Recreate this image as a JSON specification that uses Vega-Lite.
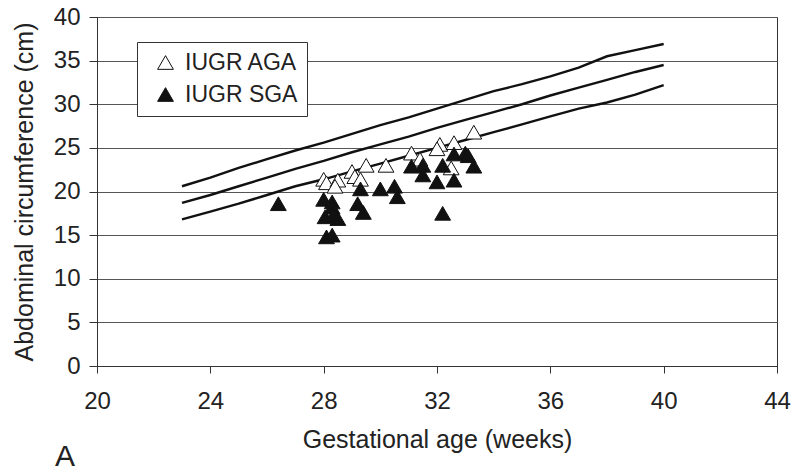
{
  "$schema": "https://vega.github.io/schema/vega-lite/v6.json",
  "width": 680,
  "height": 349,
  "autosize": {"type": "none"},
  "padding": {"left": 97, "top": 17, "right": 23, "bottom": 106},
  "background": "white",
  "config": {
    "font": "Liberation Sans",
    "view": {"stroke": "#333", "strokeWidth": 1},
    "axis": {
      "domainColor": "#333",
      "tickColor": "#333",
      "labelColor": "#222",
      "titleColor": "#222",
      "labelFontSize": 24,
      "titleFontSize": 25,
      "titleFontWeight": "normal",
      "labelFlush": false,
      "labelOverlap": false
    }
  },
  "title": {
    "text": "A",
    "orient": "bottom",
    "anchor": "start",
    "frame": "group",
    "fontSize": 30,
    "fontWeight": "normal",
    "color": "#222",
    "dx": -42,
    "offset": -10
  },
  "datasets": {
    "curves": [
      {"week": 23, "ac": 20.6, "curve": "upper"},
      {"week": 24, "ac": 21.6, "curve": "upper"},
      {"week": 25, "ac": 22.7, "curve": "upper"},
      {"week": 26, "ac": 23.7, "curve": "upper"},
      {"week": 27, "ac": 24.7, "curve": "upper"},
      {"week": 28, "ac": 25.6, "curve": "upper"},
      {"week": 29, "ac": 26.6, "curve": "upper"},
      {"week": 30, "ac": 27.6, "curve": "upper"},
      {"week": 31, "ac": 28.5, "curve": "upper"},
      {"week": 32, "ac": 29.5, "curve": "upper"},
      {"week": 33, "ac": 30.5, "curve": "upper"},
      {"week": 34, "ac": 31.5, "curve": "upper"},
      {"week": 35, "ac": 32.3, "curve": "upper"},
      {"week": 36, "ac": 33.2, "curve": "upper"},
      {"week": 37, "ac": 34.2, "curve": "upper"},
      {"week": 38, "ac": 35.5, "curve": "upper"},
      {"week": 39, "ac": 36.2, "curve": "upper"},
      {"week": 40, "ac": 36.9, "curve": "upper"},
      {"week": 23, "ac": 18.7, "curve": "middle"},
      {"week": 24, "ac": 19.6, "curve": "middle"},
      {"week": 25, "ac": 20.6, "curve": "middle"},
      {"week": 26, "ac": 21.6, "curve": "middle"},
      {"week": 27, "ac": 22.6, "curve": "middle"},
      {"week": 28, "ac": 23.5, "curve": "middle"},
      {"week": 29, "ac": 24.5, "curve": "middle"},
      {"week": 30, "ac": 25.4, "curve": "middle"},
      {"week": 31, "ac": 26.3, "curve": "middle"},
      {"week": 32, "ac": 27.3, "curve": "middle"},
      {"week": 33, "ac": 28.2, "curve": "middle"},
      {"week": 34, "ac": 29.1, "curve": "middle"},
      {"week": 35, "ac": 30.0, "curve": "middle"},
      {"week": 36, "ac": 31.0, "curve": "middle"},
      {"week": 37, "ac": 31.9, "curve": "middle"},
      {"week": 38, "ac": 32.8, "curve": "middle"},
      {"week": 39, "ac": 33.7, "curve": "middle"},
      {"week": 40, "ac": 34.5, "curve": "middle"},
      {"week": 23, "ac": 16.8, "curve": "lower"},
      {"week": 24, "ac": 17.7, "curve": "lower"},
      {"week": 25, "ac": 18.6, "curve": "lower"},
      {"week": 26, "ac": 19.6, "curve": "lower"},
      {"week": 27, "ac": 20.6, "curve": "lower"},
      {"week": 28, "ac": 21.4, "curve": "lower"},
      {"week": 29, "ac": 22.3, "curve": "lower"},
      {"week": 30, "ac": 23.2, "curve": "lower"},
      {"week": 31, "ac": 24.1, "curve": "lower"},
      {"week": 32, "ac": 25.0, "curve": "lower"},
      {"week": 33, "ac": 25.9, "curve": "lower"},
      {"week": 34, "ac": 26.8, "curve": "lower"},
      {"week": 35, "ac": 27.7, "curve": "lower"},
      {"week": 36, "ac": 28.6, "curve": "lower"},
      {"week": 37, "ac": 29.5, "curve": "lower"},
      {"week": 38, "ac": 30.2, "curve": "lower"},
      {"week": 39, "ac": 31.1, "curve": "lower"},
      {"week": 40, "ac": 32.2, "curve": "lower"}
    ],
    "points": [
      {"week": 28.0, "ac": 21.4, "group": "IUGR AGA"},
      {"week": 28.1, "ac": 21.0, "group": "IUGR AGA"},
      {"week": 28.5, "ac": 21.3, "group": "IUGR AGA"},
      {"week": 28.4, "ac": 20.6, "group": "IUGR AGA"},
      {"week": 29.0, "ac": 22.3, "group": "IUGR AGA"},
      {"week": 29.1, "ac": 21.7, "group": "IUGR AGA"},
      {"week": 29.3, "ac": 21.4, "group": "IUGR AGA"},
      {"week": 29.5, "ac": 23.0, "group": "IUGR AGA"},
      {"week": 30.2, "ac": 23.0, "group": "IUGR AGA"},
      {"week": 31.1, "ac": 24.4, "group": "IUGR AGA"},
      {"week": 31.4, "ac": 23.7, "group": "IUGR AGA"},
      {"week": 32.1, "ac": 25.4, "group": "IUGR AGA"},
      {"week": 32.0, "ac": 24.9, "group": "IUGR AGA"},
      {"week": 32.6, "ac": 25.6, "group": "IUGR AGA"},
      {"week": 32.5, "ac": 22.7, "group": "IUGR AGA"},
      {"week": 33.3, "ac": 26.8, "group": "IUGR AGA"},
      {"week": 26.4, "ac": 18.6, "group": "IUGR SGA"},
      {"week": 28.0, "ac": 19.1, "group": "IUGR SGA"},
      {"week": 28.3, "ac": 18.8, "group": "IUGR SGA"},
      {"week": 28.3, "ac": 18.2, "group": "IUGR SGA"},
      {"week": 28.05, "ac": 17.1, "group": "IUGR SGA"},
      {"week": 28.35, "ac": 17.3, "group": "IUGR SGA"},
      {"week": 28.5, "ac": 16.9, "group": "IUGR SGA"},
      {"week": 28.1, "ac": 14.8, "group": "IUGR SGA"},
      {"week": 28.3, "ac": 15.0, "group": "IUGR SGA"},
      {"week": 29.3, "ac": 20.3, "group": "IUGR SGA"},
      {"week": 29.2, "ac": 18.6, "group": "IUGR SGA"},
      {"week": 29.4, "ac": 17.6, "group": "IUGR SGA"},
      {"week": 30.0, "ac": 20.3, "group": "IUGR SGA"},
      {"week": 30.5, "ac": 20.6, "group": "IUGR SGA"},
      {"week": 30.6, "ac": 19.4, "group": "IUGR SGA"},
      {"week": 31.1, "ac": 22.9, "group": "IUGR SGA"},
      {"week": 31.5, "ac": 23.0, "group": "IUGR SGA"},
      {"week": 31.5, "ac": 21.9, "group": "IUGR SGA"},
      {"week": 32.0, "ac": 21.1, "group": "IUGR SGA"},
      {"week": 32.2, "ac": 17.5, "group": "IUGR SGA"},
      {"week": 32.2, "ac": 23.0, "group": "IUGR SGA"},
      {"week": 32.6, "ac": 24.3, "group": "IUGR SGA"},
      {"week": 32.6, "ac": 21.3, "group": "IUGR SGA"},
      {"week": 33.0, "ac": 24.4, "group": "IUGR SGA"},
      {"week": 33.1, "ac": 24.1, "group": "IUGR SGA"},
      {"week": 33.3, "ac": 22.9, "group": "IUGR SGA"}
    ]
  },
  "encoding": {
    "x": {
      "field": "week",
      "type": "quantitative",
      "scale": {"domain": [20, 44], "nice": false, "zero": false},
      "axis": {
        "title": "Gestational age (weeks)",
        "values": [20, 24, 28, 32, 36, 40, 44],
        "grid": false,
        "tickSize": 7,
        "labelPadding": 16,
        "titlePadding": 14
      }
    },
    "y": {
      "field": "ac",
      "type": "quantitative",
      "scale": {"domain": [0, 40], "nice": false},
      "axis": {
        "title": "Abdominal circumference (cm)",
        "values": [0, 5, 10, 15, 20, 25, 30, 35, 40],
        "grid": true,
        "gridColor": "#555",
        "gridOpacity": 1,
        "tickSize": 8,
        "labelPadding": 9,
        "titlePadding": 16
      }
    }
  },
  "layer": [
    {
      "data": {"name": "curves"},
      "mark": {"type": "line", "color": "#111", "strokeWidth": 2.4},
      "encoding": {"detail": {"field": "curve"}}
    },
    {
      "data": {"name": "points"},
      "mark": {"type": "point", "shape": "triangle-up", "filled": true, "stroke": "#111", "strokeWidth": 1, "size": 250, "opacity": 1},
      "encoding": {
        "fill": {
          "field": "group",
          "type": "nominal",
          "scale": {"domain": ["IUGR AGA", "IUGR SGA"], "range": ["white", "#111"]},
          "legend": {
            "orient": "none",
            "legendX": 40,
            "legendY": 25,
            "title": null,
            "symbolType": "triangle-up",
            "symbolSize": 250,
            "symbolStrokeColor": "#111",
            "symbolStrokeWidth": 1,
            "labelFontSize": 23,
            "labelColor": "#222",
            "fillColor": "white",
            "strokeColor": "#333",
            "padding": 9,
            "rowPadding": 8,
            "symbolOffset": 8,
            "labelOffset": 8
          }
        }
      }
    }
  ]
}
